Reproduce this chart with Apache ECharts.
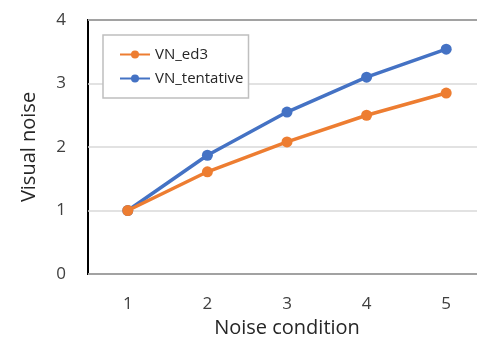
<!DOCTYPE html>
<html>
<head>
<meta charset="utf-8">
<script src="https://cdn.jsdelivr.net/npm/echarts@6/dist/echarts.min.js"></script>
<style>
  html, body { margin: 0; padding: 0; background: #fff; }
  #chart { width: 477px; height: 344px; }
</style>
</head>
<body>
<div id="chart"></div>
<script>
const categories = ['1', '2', '3', '4', '5'];
const vnEd3 = [1.0, 1.61, 2.08, 2.5, 2.85];
const vnTentative = [1.0, 1.87, 2.55, 3.1, 3.54];

const font = '"Open Sans", "Noto Sans", sans-serif';
const chart = echarts.init(document.getElementById('chart'));

chart.setOption({
  animation: false,
  textStyle: { fontFamily: font },
  grid: {
    left: 88, top: 20, width: 398, height: 254,
    outerBoundsMode: 'none', containLabel: false,
    show: true, borderColor: '#000', borderWidth: 2, backgroundColor: 'transparent'
  },
  legend: {
    left: 103, top: 35, orient: 'vertical',
    padding: [12, 5, 12, 16],
    itemGap: 9,
    itemWidth: 30, itemHeight: 10,
    borderColor: '#bfbfbf', borderWidth: 1.5,
    backgroundColor: '#fff',
    textStyle: { fontSize: 15, color: '#262626', fontFamily: font },
    data: ['VN_ed3', 'VN_tentative']
  },
  xAxis: {
    type: 'category',
    data: categories,
    boundaryGap: true,
    axisLine: { show: false },
    axisTick: { show: false },
    axisLabel: { fontSize: 17, color: '#404040', margin: 22 },
    name: 'Noise condition',
    nameLocation: 'middle',
    nameGap: 44,
    nameTextStyle: { fontSize: 20, color: '#262626' }
  },
  yAxis: {
    type: 'value',
    min: 0, max: 4, interval: 1,
    axisLine: { show: false },
    axisTick: { show: false },
    axisLabel: { fontSize: 17, color: '#404040', margin: 22 },
    splitLine: { lineStyle: { color: '#d9d9d9', width: 1.5 } },
    name: 'Visual noise',
    nameLocation: 'middle',
    nameGap: 49,
    nameTextStyle: { fontSize: 20, color: '#262626' }
  },
  series: [
    {
      name: 'VN_ed3', type: 'line', data: vnEd3,
      symbol: 'circle', symbolSize: 11,
      lineStyle: { color: '#ED7D31', width: 3.5 },
      itemStyle: { color: '#ED7D31' }
    },
    {
      name: 'VN_tentative', type: 'line', data: vnTentative,
      symbol: 'circle', symbolSize: 11,
      lineStyle: { color: '#4472C4', width: 3.5 },
      itemStyle: { color: '#4472C4' },
      z: 1
    }
  ]
});
</script>
</body>
</html>
